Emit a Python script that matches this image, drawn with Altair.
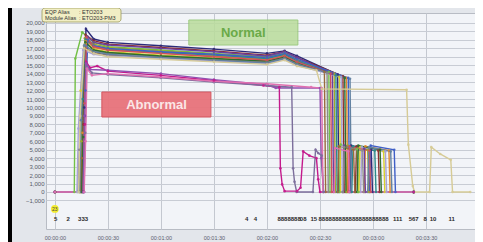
import altair as alt
import pandas as pd

# ---------------- data ----------------
Y_TICKS = list(range(-1000, 20001, 1000))
X_TICKS = [0, 30, 60, 90, 120, 150, 180, 210]

SERIES = ["N01", "N02", "N03", "N04", "N05", "N06", "N07", "N08", "N09", "N10",
          "N11", "N12", "N13", "N14", "N15", "N16", "A01", "A02", "A03", "A04"]
COLORS = ["#2b2b7a", "#8b2f2f", "#72c045", "#9ea82c", "#d9cf2a", "#e0892c", "#6b3fa0",
          "#2b8a8a", "#8a8a8a", "#3f5fc6", "#9a6b3b", "#a9a2d4", "#2f6d2f", "#d0505e",
          "#6282a2", "#d6cb96", "#c41a8c", "#9050b0", "#7c6e9c", "#e070b0"]

T_N01 = [0, 15.8, 16.6, 17.6, 22, 30, 60, 90, 120, 130, 137, 160, 160.7, 167, 167.7, 179, 179.7, 203]
V_N01 = [0, 0, 10000, 19300, 18100, 17700, 17300, 16900, 16400, 16700, 16100, 13900, 0, 0, 5500, 5000, 0, 0]
T_N02 = [0, 15.5, 16.3, 17.4, 22, 30, 60, 90, 120, 130, 137, 163, 163.7, 170, 170.7, 183, 183.7, 203]
V_N02 = [0, 0, 8000, 18600, 17900, 17500, 17100, 16700, 16200, 16600, 15900, 13700, 0, 0, 5400, 4900, 0, 0]
T_N03 = [0, 11.0, 11.6, 15.5, 22, 30, 60, 90, 120, 130, 137, 155, 155.7, 161, 161.7, 171, 171.7, 203]
V_N03 = [0, 0, 15800, 18900, 17700, 17200, 16800, 16400, 16000, 16500, 15700, 14200, 0, 0, 5600, 5100, 0, 0]
T_N04 = [0, 14.2, 15.0, 17.0, 22, 30, 60, 90, 120, 130, 137, 158, 158.7, 165, 165.7, 177, 177.7, 203]
V_N04 = [0, 0, 6000, 18200, 17500, 17100, 16700, 16300, 15900, 16400, 15600, 14000, 0, 0, 5500, 5000, 0, 0]
T_N05 = [0, 13.8, 14.6, 17.2, 22, 30, 60, 90, 120, 130, 137, 161, 161.7, 172, 172.7, 186, 186.7, 203]
V_N05 = [0, 0, 12000, 17600, 16900, 16600, 16200, 15900, 15500, 16100, 15300, 13600, 0, 0, 5300, 4800, 0, 0]
T_N06 = [0, 14.8, 15.6, 17.8, 22, 30, 60, 90, 120, 130, 137, 165, 165.7, 175, 175.7, 189, 189.7, 203]
V_N06 = [0, 0, 7000, 17900, 17100, 16800, 16400, 16100, 15700, 16200, 15400, 13500, 0, 0, 5400, 4900, 0, 0]
T_N07 = [0, 16.2, 17.0, 18.4, 22, 30, 60, 90, 120, 130, 137, 157, 157.7, 163, 163.7, 175, 175.7, 203]
V_N07 = [0, 0, 9000, 18400, 17700, 17400, 17000, 16600, 16100, 16600, 15900, 14000, 0, 0, 5500, 5100, 0, 0]
T_N08 = [0, 15.0, 15.8, 17.5, 22, 30, 60, 90, 120, 130, 137, 159, 159.7, 168, 168.7, 181, 181.7, 203]
V_N08 = [0, 0, 11000, 18100, 17300, 16900, 16500, 16200, 15800, 16300, 15500, 13800, 0, 0, 5400, 4900, 0, 0]
T_N09 = [0, 13.0, 13.8, 16.5, 22, 30, 60, 90, 120, 130, 137, 154, 154.7, 163, 163.7, 174, 174.7, 203]
V_N09 = [0, 0, 5000, 17300, 16700, 16400, 16000, 15700, 15400, 15900, 15200, 14100, 0, 0, 5300, 4900, 0, 0]
T_N10 = [0, 16.5, 17.3, 18.7, 22, 30, 60, 90, 120, 130, 137, 166, 166.7, 178, 178.7, 192, 192.7, 203]
V_N10 = [0, 0, 12000, 18000, 17300, 17000, 16600, 16300, 15900, 16400, 15700, 13500, 0, 0, 5500, 5000, 0, 0]
T_N11 = [0, 14.5, 15.3, 17.0, 22, 30, 60, 90, 120, 130, 137, 152.5, 153.2, 160, 160.7, 169, 169.7, 203]
V_N11 = [0, 0, 4000, 17000, 16500, 16200, 15900, 15600, 15300, 15800, 15100, 14200, 0, 0, 5400, 5000, 0, 0]
T_N12 = [0, 12.5, 13.3, 16.0, 22, 30, 60, 90, 120, 130, 137, 162, 162.7, 173, 173.7, 187, 187.7, 203]
V_N12 = [0, 0, 7500, 16800, 16300, 16100, 15800, 15500, 15200, 15700, 15000, 13600, 0, 0, 5300, 4800, 0, 0]
T_N13 = [0, 15.2, 16.0, 17.3, 22, 30, 60, 90, 120, 130, 137, 164, 164.7, 171, 171.7, 184, 184.7, 203]
V_N13 = [0, 0, 6500, 17700, 16800, 16500, 16100, 15800, 15500, 16000, 15300, 13500, 0, 0, 5500, 5000, 0, 0]
T_N14 = [0, 16.0, 16.8, 17.9, 22, 30, 60, 90, 120, 130, 137, 156, 156.7, 166, 166.7, 178, 178.7, 203]
V_N14 = [0, 0, 10500, 18300, 17200, 16800, 16400, 16000, 15600, 16100, 15400, 14000, 0, 0, 5400, 4900, 0, 0]
T_N15 = [0, 14.0, 14.8, 16.8, 22, 30, 60, 90, 120, 130, 137, 167, 167.7, 177, 177.7, 190, 190.7, 203]
V_N15 = [0, 0, 8500, 17400, 16600, 16300, 15900, 15600, 15300, 15800, 15100, 13400, 0, 0, 5300, 4800, 0, 0]
T_N16 = [0, 13.5, 14.3, 16.6, 22, 30, 60, 90, 120, 130, 137, 148, 151, 199, 200, 202.5, 203.5, 212, 213, 218, 224, 225, 235]
V_N16 = [0, 0, 9000, 17000, 16400, 16000, 15700, 15400, 15100, 15600, 14900, 14400, 12200, 12100, 5600, 700, 0, 0, 5300, 4500, 3800, 0, 0]

T_A01 = [0, 16.3, 17.0, 17.8, 20, 24, 30, 60, 90, 118, 127, 127.6, 128.6, 130, 137, 139, 140.5, 144, 148, 149, 150, 203]
V_A01 = [0, 0, 8000, 15400, 14700, 14900, 14300, 13800, 13200, 12600, 12400, 2800, 900, 100, 100, 500, 4800, 4300, 4000, 1500, 0, 0]
T_A02 = [0, 16.0, 16.8, 17.6, 20, 30, 60, 90, 120, 125, 150, 150.7, 152, 203]
V_A02 = [0, 0, 9000, 15200, 14500, 14400, 14000, 13300, 12700, 12300, 12300, 4000, 0, 0]
T_A03 = [0, 16.5, 17.2, 18.0, 21, 30, 60, 90, 120, 134, 134.8, 135.6, 136.8, 146, 147.5, 149, 151, 152, 203]
V_A03 = [0, 0, 7000, 14800, 14100, 13900, 13500, 13000, 12600, 12400, 2800, 1200, 0, 0, 5000, 4600, 4300, 0, 0]
T_A04 = [0, 16.6, 17.4, 18.2, 21, 30, 60, 90, 120, 145, 151, 151.7, 158, 158.7, 166, 166.7, 203]
V_A04 = [0, 0, 6000, 14600, 13800, 14000, 13600, 13100, 12800, 12400, 12300, 0, 0, 5200, 4800, 0, 0]

T_ALL = [T_N01, T_N02, T_N03, T_N04, T_N05, T_N06, T_N07, T_N08, T_N09, T_N10,
         T_N11, T_N12, T_N13, T_N14, T_N15, T_N16, T_A01, T_A02, T_A03, T_A04]
V_ALL = [V_N01, V_N02, V_N03, V_N04, V_N05, V_N06, V_N07, V_N08, V_N09, V_N10,
         V_N11, V_N12, V_N13, V_N14, V_N15, V_N16, V_A01, V_A02, V_A03, V_A04]

# event markers along the bottom row
EV_T = [0.5, 7.5, 16.0, 108.5, 113.5, 132.5, 140.5, 146.5, 169.0, 194.0, 203.0, 209.5, 214.0, 224.5]
EV_L = ["5", "2", "333", "4", "4", "8888888", "08", "15", "888888888888888888888",
        "111", "567", "8", "10", "11"]
EV_ROW = -3200
BADGE_T = [0]
BADGE_V = [-2000]
BADGE_L = ["23"]

# ---------------- build tables ----------------
rows = []
for name, ts, vs in zip(SERIES, T_ALL, V_ALL):
    for i, (t, v) in enumerate(zip(ts, vs)):
        rows.append({"series": name, "t": t, "v": v, "i": i})
df = pd.DataFrame(rows)
ev = pd.DataFrame({"t": EV_T, "label": EV_L, "v": [EV_ROW] * len(EV_T)})
badge = pd.DataFrame({"t": BADGE_T, "v": BADGE_V, "label": BADGE_L})

XDOM = [-5, 237.7]
YDOM = [-4380, 21180]
FONT = "Liberation Sans"

xscale = alt.Scale(domain=XDOM, nice=False, zero=False)
yscale = alt.Scale(domain=YDOM, nice=False, zero=False)

lines = alt.Chart(df).mark_line(
    strokeWidth=1.4, clip=True,
    point=alt.OverlayMarkDef(size=7, filled=True, opacity=0.9)
).encode(
    x=alt.X("t:Q", scale=xscale, title=None,
            axis=alt.Axis(values=X_TICKS, tickCount=20, grid=True, gridColor="#c4c8d0", gridWidth=1,
                          ticks=False, domain=False, labelFontSize=5.5, labelColor="#5a6070",
                          labelFont=FONT, labelPadding=6, labelOverlap=False,
                          labelExpr="'00:0' + floor(datum.value / 60) + ':' + (datum.value % 60 == 0 ? '00' : '30')")),
    y=alt.Y("v:Q", scale=yscale, title=None,
            axis=alt.Axis(values=Y_TICKS, tickCount=40, format=",d", grid=True, gridColor="#c8ccd4",
                          gridWidth=1, ticks=False, domain=False, labelFontSize=6, labelColor="#555a66",
                          labelFont=FONT, labelPadding=2, labelOverlap=False)),
    color=alt.Color("series:N", scale=alt.Scale(domain=SERIES, range=COLORS), legend=None),
    order=alt.Order("i:Q"),
)

normal_box = alt.Chart().mark_rect(fill="#b9dc9b", stroke="#8fc46e", strokeWidth=1, opacity=0.85).encode(
    x=alt.datum(75.8), x2=alt.datum(137.5), y=alt.datum(20350), y2=alt.datum(17390))
normal_txt = alt.Chart().mark_text(text="Normal", font=FONT, fontWeight="bold", fontSize=13,
                                   color="#6aaa48").encode(x=alt.datum(106.6), y=alt.datum(18870))
abn_box = alt.Chart().mark_rect(fill="#e8737b", stroke="#d4505a", strokeWidth=1, opacity=0.95).encode(
    x=alt.datum(26.6), x2=alt.datum(88.3), y=alt.datum(11830), y2=alt.datum(8870))
abn_txt = alt.Chart().mark_text(text="Abnormal", font=FONT, fontWeight="bold", fontSize=13,
                                color="#fbe6e6").encode(x=alt.datum(57.5), y=alt.datum(10350))

events = alt.Chart(ev).mark_text(font=FONT, fontSize=6, fontWeight="bold", color="#2a2a2a").encode(
    x="t:Q", y="v:Q", text="label:N")
badge_pt = alt.Chart(badge).mark_point(filled=True, size=60, color="#f2ec2e", opacity=1).encode(
    x="t:Q", y="v:Q")
badge_txt = alt.Chart(badge).mark_text(font=FONT, fontSize=5, color="#444").encode(
    x="t:Q", y="v:Q", text="label:N")

info_box = alt.Chart().mark_rect(fill="#f1eec4", stroke="#9c9a5a", strokeWidth=0.8, cornerRadius=3).encode(
    x=alt.value(-4), x2=alt.value(75), y=alt.value(-5), y2=alt.value(9))
info1a = alt.Chart().mark_text(text="EQP Alias", font=FONT, fontSize=5.5, align="left", color="#333").encode(
    x=alt.value(-1), y=alt.value(-1.3))
info1b = alt.Chart().mark_text(text=": ETO203", font=FONT, fontSize=5.5, align="left", color="#333").encode(
    x=alt.value(33), y=alt.value(-1.3))
info2a = alt.Chart().mark_text(text="Module Alias", font=FONT, fontSize=5.5, align="left", color="#333").encode(
    x=alt.value(-1), y=alt.value(5))
info2b = alt.Chart().mark_text(text=": ETO203-PM3", font=FONT, fontSize=5.5, align="left", color="#333").encode(
    x=alt.value(33), y=alt.value(5))

black_strip = alt.Chart().mark_rect(color="#000000").encode(
    x=alt.value(-38), x2=alt.value(-34), y=alt.value(-5), y2=alt.value(240))

chart = alt.layer(
    lines, normal_box, normal_txt, abn_box, abn_txt, events, badge_pt, badge_txt,
    info_box, info1a, info1b, info2a, info2b, black_strip
).properties(
    width=429, height=216,
    padding={"left": 38, "top": 5, "right": 0, "bottom": 13},
    autosize=alt.AutoSizeParams(type="none"),
    background="#e3e6eb",
).configure_view(fill="#f2f4f8", stroke="#b8bcc4", strokeWidth=1)

chart.save("out.html", embed_options={"renderer": "svg", "actions": False})
